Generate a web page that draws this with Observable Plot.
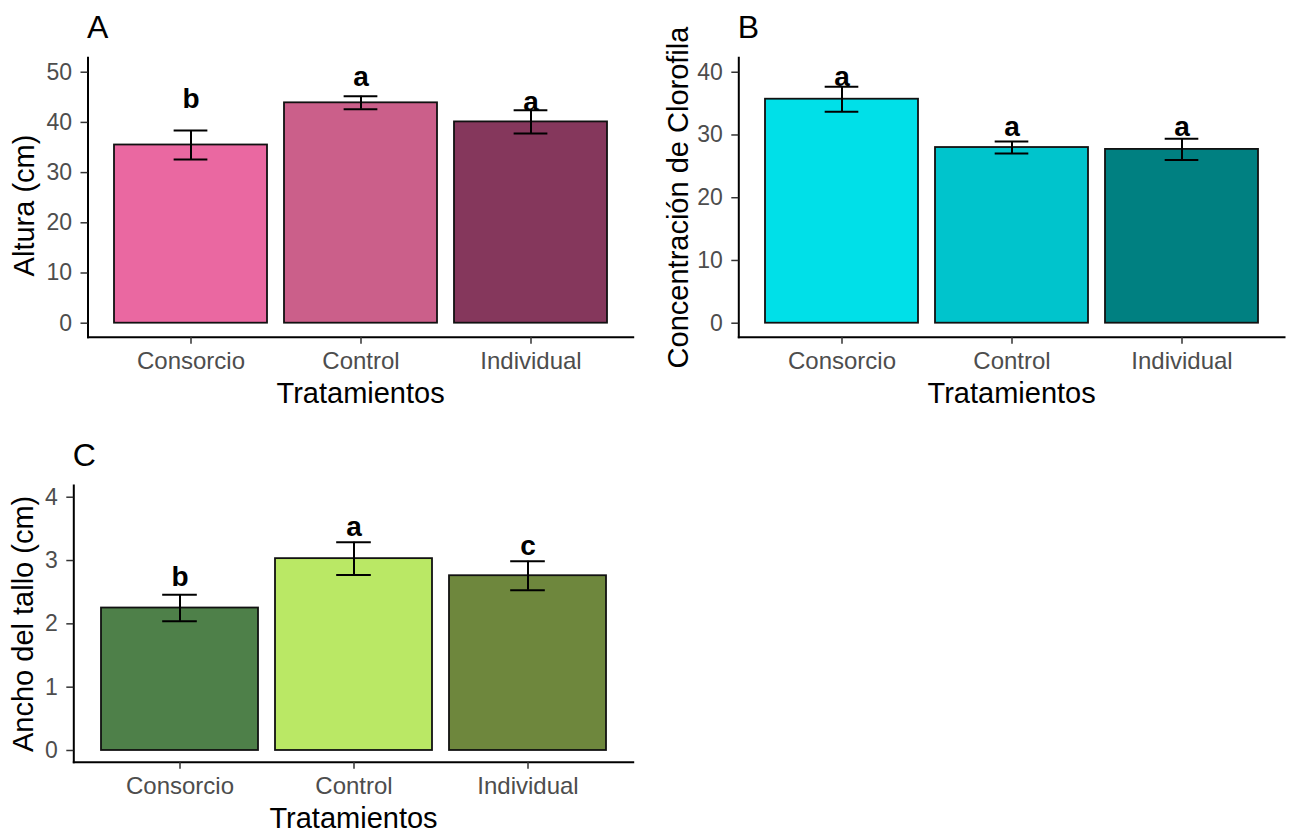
<!DOCTYPE html>
<html>
<head>
<meta charset="utf-8">
<script src="https://cdn.jsdelivr.net/npm/d3@7"></script>
<script src="https://cdn.jsdelivr.net/npm/@observablehq/plot@0.6"></script>
<style>
  body { margin: 0; background: #fff; }
  #fig { position: relative; width: 1295px; height: 836px; background: #fff; }
  #fig svg { position: absolute; }
</style>
</head>
<body>
<div id="fig"></div>
<script>
// Treatments shared by all three panels
const treatments = ["Consorcio", "Control", "Individual"];
const xTitle = "Tratamientos";

// A: plant height (cm)
const alturaMean = [35.5, 43.9, 40.1];
const alturaSE = [2.9, 1.3, 2.3];
const alturaLetters = ["b", "a", "a"];
const alturaLetterY = [44.6, 49.1, 44.0];
const alturaTicks = [0, 10, 20, 30, 40, 50];
const alturaColors = ["#EA68A1", "#CB5F8A", "#85375C"];

// B: chlorophyll concentration
const clorofilaMean = [35.7, 28.0, 27.7];
const clorofilaSE = [2.0, 0.95, 1.7];
const clorofilaLetters = ["a", "a", "a"];
const clorofilaLetterY = [39.3, 31.2, 31.2];
const clorofilaTicks = [0, 10, 20, 30, 40];
const clorofilaColors = ["#00E0E8", "#00C4CC", "#008081"];

// C: stem width (cm)
const talloMean = [2.25, 3.03, 2.76];
const talloSE = [0.21, 0.26, 0.23];
const talloLetters = ["b", "a", "c"];
const talloLetterY = [2.74, 3.53, 3.23];
const talloTicks = [0, 1, 2, 3, 4];
const talloColors = ["#4E8049", "#BAE865", "#6E873D"];

const FONT = "'Liberation Sans', Arial, Helvetica, sans-serif";

function panel({tag, yTitle, means, ses, letters, letterY, colors, yDomain, yTicks,
                left, top, width, height, margins, titleDx, titleDy = 0}) {
  const rows = treatments.map((t, i) => ({
    t, m: means[i], lo: means[i] - ses[i], hi: means[i] + ses[i],
    letter: letters[i], ly: letterY[i]
  }));
  const [mt, mr, mb, ml] = margins;
  // band step: 3 bands, inner padding 0.1, outer padding 0.15 on each side
  const step = (width - ml - mr) / (treatments.length - 0.1 + 0.3);
  const capInset = 0.35 * step;
  const eb = {stroke: "black", strokeWidth: 2};
  const svg = Plot.plot({
    width, height,
    marginTop: mt, marginRight: mr, marginBottom: mb, marginLeft: ml,
    style: {fontFamily: FONT, background: "transparent", overflow: "visible"},
    x: {type: "band", domain: treatments, paddingInner: 0.1, paddingOuter: 0.15},
    y: {domain: yDomain},
    color: {domain: treatments, range: colors},
    marks: [
      Plot.barY(rows, {x: "t", y: "m", fill: "t", stroke: "#111", strokeWidth: 1.8}),
      Plot.ruleX(rows, {x: "t", y1: "lo", y2: "hi", ...eb}),
      Plot.tickY(rows, {x: "t", y: "lo", insetLeft: capInset, insetRight: capInset, ...eb}),
      Plot.tickY(rows, {x: "t", y: "hi", insetLeft: capInset, insetRight: capInset, ...eb}),
      Plot.text(rows, {x: "t", y: "ly", text: "letter", fontWeight: "bold", fontSize: 28, fill: "black"}),
      Plot.frame({anchor: "left", strokeWidth: 2}),
      Plot.frame({anchor: "bottom", strokeWidth: 2}),
      Plot.axisY({ticks: yTicks, tickFormat: d => String(d), tickSize: 7, tickPadding: 9, fontSize: 23,
                  fill: "#4D4D4D", stroke: "#333", strokeWidth: 1.5, label: null}),
      Plot.axisX({tickSize: 7, tickPadding: 8, fontSize: 24,
                  fill: "#4D4D4D", stroke: "#333", strokeWidth: 1.5, label: null}),
      Plot.text([yTitle], {frameAnchor: "left", textAnchor: "middle", lineAnchor: "middle",
                           rotate: -90, dx: titleDx, dy: titleDy, fontSize: 29, fill: "black"}),
      Plot.text([xTitle], {frameAnchor: "bottom", textAnchor: "middle", lineAnchor: "bottom",
                           dy: 66, fontSize: 29, fill: "black"}),
      Plot.text([tag], {frameAnchor: "top-left", textAnchor: "start", lineAnchor: "bottom",
                        dx: -1, dy: -20, fontSize: 32, fill: "black"})
    ]
  });
  svg.style.left = left + "px";
  svg.style.top = top + "px";
  return svg;
}

const fig = document.getElementById("fig");

fig.append(panel({
  tag: "A", yTitle: "Altura (cm)",
  means: alturaMean, ses: alturaSE, letters: alturaLetters, letterY: alturaLetterY,
  colors: alturaColors, yDomain: [-2.79, 52.87], yTicks: alturaTicks,
  left: 0, top: 0, width: 640, height: 420, margins: [57.3, 7.3, 83.3, 87.5], titleDx: -63, titleDy: 8
}));

fig.append(panel({
  tag: "B", yTitle: "Concentración de Clorofila",
  means: clorofilaMean, ses: clorofilaSE, letters: clorofilaLetters, letterY: clorofilaLetterY,
  colors: clorofilaColors, yDomain: [-2.23, 42.3], yTicks: clorofilaTicks,
  left: 650, top: 0, width: 645, height: 420, margins: [57.3, 11, 83.3, 88.3], titleDx: -60
}));

fig.append(panel({
  tag: "C", yTitle: "Ancho del tallo (cm)",
  means: talloMean, ses: talloSE, letters: talloLetters, letterY: talloLetterY,
  colors: talloColors, yDomain: [-0.185, 4.185], yTicks: talloTicks,
  left: 0, top: 430, width: 640, height: 406, margins: [55, 7.3, 74.3, 73.3], titleDx: -50
}));
</script>
</body>
</html>
